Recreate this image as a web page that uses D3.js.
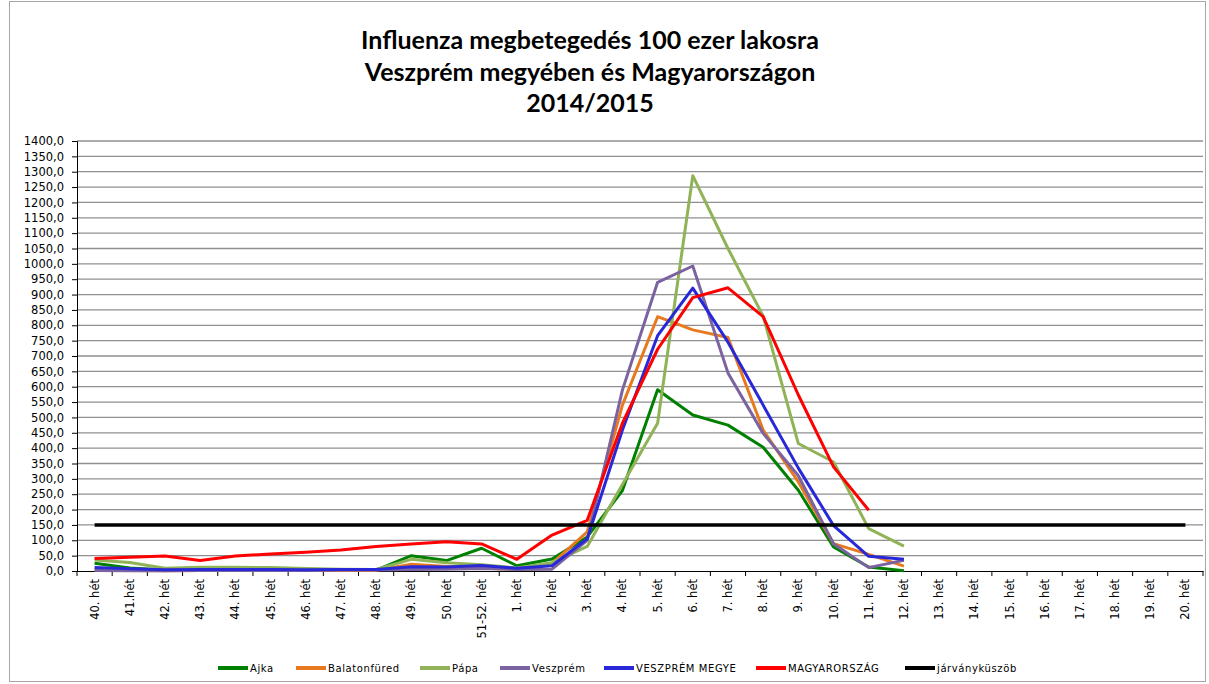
<!DOCTYPE html>
<html>
<head>
<meta charset="utf-8">
<script src="https://cdn.jsdelivr.net/npm/d3@7"></script>
<style>
  body { margin: 0; background: #fff; }
  .axis text { font-family: "DejaVu Sans", sans-serif; font-size: 11.5px; fill: #000; }
</style>
</head>
<body>
<div class="chart"></div>
<script>
// Week labels on the x axis
const weeks = ["40. hét", "41.hét", "42. hét", "43. hét", "44. hét", "45. hét", "46. hét", "47. hét",
    "48. hét", "49. hét", "50. hét", "51-52. hét", "1. hét", "2. hét", "3. hét", "4. hét", "5. hét",
    "6. hét", "7. hét", "8. hét", "9. hét", "10. hét", "11. hét", "12. hét", "13. hét", "14. hét",
    "15. hét", "16. hét", "17. hét", "18. hét", "19. hét", "20. hét"];

// Cases per 100 000 inhabitants
const ajka = [25, 10, 3, 5, 5, 5, 4, 5, 3, 50, 34, 74, 17, 39, 111, 262, 590, 508, 475, 403, 263, 78, 13, 1];
const balatonfured = [3, 2, 1, 2, 2, 2, 2, 2, 2, 22, 15, 10, 5, 25, 127, 540, 828, 785, 760, 459, 290, 89, 54, 16];
const papa = [36, 28, 9, 12, 12, 11, 8, 6, 5, 38, 27, 20, 10, 27, 80, 282, 481, 1287, 1050, 830, 415, 355, 138, 81];
const veszprem = [2, 1, 1, 2, 2, 2, 2, 3, 3, 5, 6, 8, 5, 6, 100, 589, 940, 993, 645, 448, 310, 89, 11, 35];
const megye = [11, 7, 4, 5, 5, 5, 4, 5, 5, 14, 13, 18, 9, 17, 105, 459, 766, 921, 745, 540, 335, 148, 48, 38];
const orszag = [41, 45, 49, 34, 49, 55, 61, 68, 80, 88, 95, 88, 38, 117, 165, 481, 722, 890, 922, 828, 573, 339, 198];
const kuszob = weeks.map(() => 150);

// Series names and colours for the legend
const seriesNames = ["Ajka", "Balatonfüred", "Pápa", "Veszprém", "VESZPRÉM MEGYE", "MAGYARORSZÁG", "járványküszöb"];
const seriesValues = [ajka, balatonfured, papa, veszprem, megye, orszag, kuszob];
const seriesColors = ["#008000", "#e8791e", "#8fb356", "#7b62a0", "#2828d8", "#ff0000", "#000000"];

// Y tick values 0..1400 by 50
const yTicks = d3.range(0, 1401, 50);

// Select the container and set dimensions
const svg = d3.select(".chart")
    .append("svg")
    .attr("width", 1209)
    .attr("height", 684);

// outer chart frame
svg.append("rect")
    .attr("x", 9.5).attr("y", 1.5)
    .attr("width", 1196).attr("height", 680)
    .attr("fill", "none")
    .attr("stroke", "#a6a6a6");

// Title, three lines
const titleLines = ["Influenza megbetegedés 100 ezer lakosra", "Veszprém megyében és Magyarországon", "2014/2015"];
svg.append("g").selectAll("text")
    .data(titleLines)
    .enter()
    .append("text")
    .attr("x", 590)
    .attr("y", (d, i) => 49 + i * 31.5)
    .attr("text-anchor", "middle")
    .style("font-family", "Lato, sans-serif")
    .style("font-weight", "bold")
    .style("font-size", "25px")
    .text(d => d);

// Scales
const xScale = d3.scaleBand()
    .domain(weeks)
    .range([77, 1203])
    .padding(0);

const yScale = d3.scaleLinear()
    .domain([0, 1400])
    .range([571, 141]);

// Horizontal gridlines
svg.append("g")
    .selectAll("line")
    .data(yTicks.slice(1))
    .enter()
    .append("line")
    .attr("x1", 77)
    .attr("x2", 1203)
    .attr("y1", d => yScale(d))
    .attr("y2", d => yScale(d))
    .attr("stroke", "#8f8f8f")
    .attr("stroke-width", 1.3);

// Y axis
svg.append("g")
    .attr("class", "axis")
    .attr("transform", "translate(77,0)")
    .call(d3.axisLeft(yScale)
        .tickValues(yTicks)
        .tickSize(5)
        .tickPadding(8)
        .tickFormat(d => d3.format(".1f")(d).replace(".", ",")))
    .call(g => g.select(".domain").attr("stroke", "#000"));

// X axis: labels in the middle of each band, rotated
const xAxis = svg.append("g")
    .attr("class", "axis")
    .attr("transform", "translate(0,571)")
    .call(d3.axisBottom(xScale).tickSize(0).tickPadding(0));

xAxis.select(".domain").attr("stroke", "#000");
xAxis.selectAll("text")
    .attr("transform", "rotate(-90)")
    .attr("x", -8)
    .attr("y", 0)
    .attr("dy", "0.35em")
    .attr("text-anchor", "end");

// Tick marks between the categories
svg.append("g")
    .selectAll("line")
    .data(weeks.concat(["end"]))
    .enter()
    .append("line")
    .attr("x1", (d, i) => i < weeks.length ? xScale(d) : xScale.range()[1])
    .attr("x2", (d, i) => i < weeks.length ? xScale(d) : xScale.range()[1])
    .attr("y1", 571)
    .attr("y2", 576)
    .attr("stroke", "#000");

// Line generator
const line = d3.line()
    .x((d, i) => xScale(weeks[i]) + xScale.bandwidth() / 2)
    .y(d => yScale(d));

// Draw one line for every series
svg.append("g")
    .selectAll("path")
    .data(seriesValues)
    .enter()
    .append("path")
    .attr("fill", "none")
    .attr("stroke", (d, i) => seriesColors[i])
    .attr("stroke-width", (d, i) => i === 6 ? 3.5 : 3)
    .attr("stroke-linejoin", "round")
    .attr("d", d => line(d));

// Legend
const legendX = [218, 296, 420, 500, 604, 756, 905];
const legend = svg.append("g")
    .selectAll("g")
    .data(seriesNames)
    .enter()
    .append("g")
    .attr("transform", (d, i) => `translate(${legendX[i]},668)`);

legend.append("line")
    .attr("x1", 0)
    .attr("x2", 30)
    .attr("stroke", (d, i) => seriesColors[i])
    .attr("stroke-width", 4);

legend.append("text")
    .attr("x", 32)
    .attr("dy", "0.35em")
    .style("font-family", "DejaVu Sans, sans-serif")
    .style("font-size", "10px")
    .style("letter-spacing", "0.6px")
    .text(d => d);
</script>
</body>
</html>
